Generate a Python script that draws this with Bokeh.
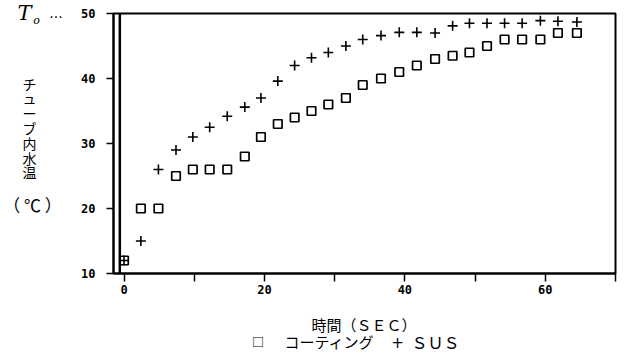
from bokeh.plotting import figure
from bokeh.models import FixedTicker, Label, Span, Range1d
from bokeh.layouts import row, column
from bokeh.embed import file_html
from bokeh.resources import INLINE

# ---- data ----
time_sec = [0, 2.4, 4.9, 7.4, 9.8, 12.2, 14.7, 17.2, 19.5, 21.9, 24.3, 26.7, 29.1,
            31.6, 34.0, 36.6, 39.2, 41.7, 44.3, 46.8, 49.2, 51.7, 54.2, 56.7, 59.3,
            61.8, 64.5]
coating = [12, 20, 20, 25, 26, 26, 26, 28, 31, 33, 34, 35, 36, 37, 39, 40, 41, 42,
           43, 43.5, 44, 45, 46, 46, 46, 47, 47]
sus = [12, 15, 26, 29, 31, 32.5, 34.2, 35.6, 37, 39.6, 42, 43.2, 44, 45, 46, 46.6,
       47.1, 47.1, 47, 48.1, 48.5, 48.5, 48.5, 48.5, 48.9, 48.8, 48.7]
x_ticks = [0, 20, 40, 60]
x_minor = [10, 30, 50, 70]
y_ticks = [10, 20, 30, 40, 50]

W, H = 624, 356
LEFT_W = 78          # left text strip
TOP_H = 300          # height of the chart
BOT_H = H - TOP_H    # bottom text strip
FRAME_L, FRAME_R = 112, 615
BL = FRAME_L - LEFT_W
BR = W - FRAME_R

# ---------------- main chart ----------------
p = figure(width=W - LEFT_W, height=TOP_H, output_backend="svg", toolbar_location=None,
           x_range=Range1d(-1.5, 70), y_range=Range1d(10, 50),
           min_border_left=BL, min_border_right=BR, min_border_top=13,
           min_border_bottom=TOP_H - 273)
p.background_fill_color = "white"
p.border_fill_color = "white"
p.outline_line_color = "black"
p.outline_line_width = 2
p.xgrid.visible = False
p.ygrid.visible = False

tick_font = "DejaVu Sans Mono"
p.xaxis.ticker = FixedTicker(ticks=x_ticks, minor_ticks=x_minor)
p.yaxis.ticker = FixedTicker(ticks=y_ticks, minor_ticks=[])
for ax in (p.xaxis, p.yaxis):
    ax.axis_line_width = 2
    ax.axis_line_color = "black"
    ax.major_tick_in = 0
    ax.major_tick_out = 8
    ax.minor_tick_in = 0
    ax.major_tick_line_width = 1.5
    ax.minor_tick_line_width = 1.5
    ax.major_label_text_font = tick_font
    ax.major_label_text_font_style = "bold"
    ax.major_label_text_font_size = "12px"
    ax.major_label_text_color = "black"
p.xaxis.minor_tick_out = 8
p.yaxis.minor_tick_out = 0
p.yaxis.major_tick_out = 7
p.yaxis.major_label_standoff = 11
p.xaxis.major_label_standoff = 3

# second inner line of the left border
p.add_layout(Span(location=-0.6, dimension="height", line_color="black", line_width=2.5))

p.scatter(time_sec, coating, marker="square", size=8.5, fill_color=None,
          line_color="black", line_width=1.7)
p.scatter(time_sec, sus, marker="cross", size=10, line_color="black", line_width=1.6)

cjk = "Noto Sans CJK JP"


def text_strip(w, h, left=0, right=0):
    f = figure(width=w, height=h, output_backend="svg", toolbar_location=None,
               x_axis_location=None, y_axis_location=None,
               min_border=0, min_border_left=left, min_border_right=right,
               min_border_top=0, min_border_bottom=0)
    f.outline_line_color = None
    f.background_fill_color = "white"
    f.border_fill_color = "white"
    f.xgrid.visible = False
    f.ygrid.visible = False
    return f


def lab(f, h, x0, text, px, py, size, font=cjk, align="center", style="normal", **kw):
    # px, py: page pixel position (top-left origin); x0: page x of the strip's frame
    f.add_layout(Label(x=px - x0, y=h - py, x_units="screen", y_units="screen",
                       text=text, text_font=font, text_font_size=size,
                       text_align=align, text_baseline="middle",
                       text_font_style=style, text_color="black", **kw))


# ---------------- left strip ----------------
lf = text_strip(LEFT_W, H)
lab(lf, H, 0, "チ\nュ\nー\nブ\n内\n水\n温", 29, 127.5, "14px", text_line_height=0.74)
lab(lf, H, 0, "（ ℃ ）", 32, 204, "17px")
lab(lf, H, 0, "T", 24, 12.5, "21px", font="DejaVu Serif", style="italic")
lab(lf, H, 0, "o", 36, 20, "11px", font="DejaVu Serif", style="italic")
lab(lf, H, 0, "···", 55.5, 16.5, "14px", font="DejaVu Sans")

# ---------------- bottom strip (same side borders as the chart) ----------------
bf = text_strip(W - LEFT_W, BOT_H, left=BL, right=BR)
def blab(text, px, py, size, **kw):
    lab(bf, BOT_H, FRAME_L, text, px, py - TOP_H, size, **kw)

blab("時間（ＳＥＣ）", 362.5, 324, "15px")
blab("□", 256.5, 341, "12px", style="bold")
blab("コーティング", 283, 341, "15px", align="left")
blab("+", 396, 341, "15px", font="DejaVu Sans")
blab("ＳＵＳ", 410, 341, "16px", align="left")

layout = row(lf, column(p, bf, spacing=0), spacing=0)
open("out.html", "w").write(file_html(layout, INLINE))
